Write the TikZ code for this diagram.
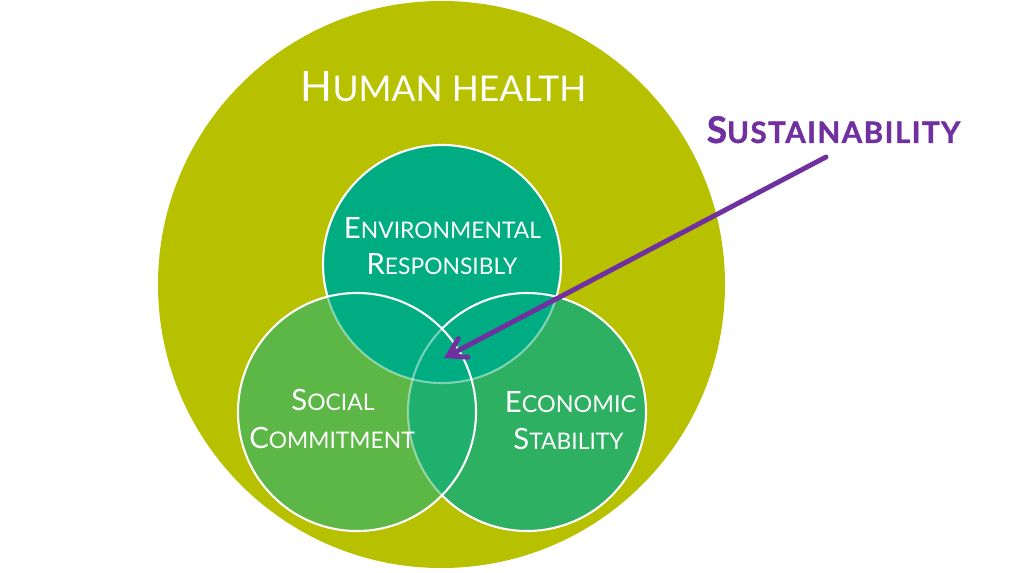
\documentclass[tikz,border=0pt]{standalone}
\usepackage{fontspec}
\setmainfont{Lato}
\usetikzlibrary{arrows.meta,calc}
\definecolor{hhOlive}{RGB}{183,193,0}
\definecolor{envTeal}{RGB}{0,173,131}
\definecolor{lGreen}{RGB}{92,183,70}
\definecolor{rGreen}{RGB}{46,176,98}
\definecolor{lensGreen}{RGB}{30,176,108}
\definecolor{sustPurple}{RGB}{112,48,160}
\newcommand\SC[4]{{\fontsize{#1pt}{#1pt}\selectfont #3}{\fontsize{#2pt}{#2pt}\selectfont #4}}
\begin{document}
\begin{tikzpicture}[x=0.02cm,y=0.02cm,
  ring/.style={draw=white, line width=1.2pt},
  faint/.style={draw=white, draw opacity=0.45, line width=1.2pt},
  lbl/.style={text=white, anchor=base, inner sep=0pt},
  arr/.style={draw=sustPurple, line width=2.8pt, line cap=round,
    -{Straight Barb[length=0.34cm,width=0.42cm,line cap=round]}}]
\useasboundingbox (0,0) rectangle (1024,572);
% outer circle
\fill[hhOlive] (441.5,287.5) circle (283.5);
% Venn circles
\coordinate (T) at (442,308);
\coordinate (L) at (357,160);
\coordinate (R) at (527,160);
\fill[rGreen] (R) circle (119);
\fill[lGreen] (L) circle (119);
\begin{scope}
  \clip (L) circle (119);
  \fill[lensGreen] (R) circle (119);
\end{scope}
\fill[envTeal] (T) circle (119);
% outlines
\draw[ring] (L) circle (119);
\draw[ring] ($(R)+(135.6:119)$) arc[start angle=135.6, end angle=-135.6, radius=119];
\draw[faint] ($(R)+(135.6:119)$) arc[start angle=135.6, end angle=224.4, radius=119];
\draw[ring] ($(T)+(-16:119)$) arc[start angle=-16, end angle=196, radius=119];
\draw[faint] ($(T)+(196:119)$) arc[start angle=196, end angle=344, radius=119];
% labels
\node[lbl] (hh) at (443.5,470) {\SC{23.8}{20.2}{H}{UMAN HEALTH}};
\node[lbl, text=sustPurple, font=\bfseries\addfontfeature{LetterSpace=5,FakeBold=1.2}] (sust) at (833.5,429) {\SC{21}{16.8}{S}{USTAINABILITY}};
\node[lbl] (env1) at (442.5,334) {\SC{16.7}{13}{E}{NVIRONMENTAL}};
\node[lbl] (env2) at (442,297) {\SC{16.7}{13}{R}{ESPONSIBLY}};
\node[lbl] (soc1) at (333,162) {\SC{16.7}{13}{S}{OCIAL}};
\node[lbl] (soc2) at (332,124) {\SC{16.7}{13}{C}{OMMITMENT}};
\node[lbl] (eco1) at (570.5,160) {\SC{16.7}{13.3}{E}{CONOMIC}};
\node[lbl] (eco2) at (568.5,123) {\SC{16.7}{13}{S}{TABILITY}};
% arrow
\coordinate (a0) at (826,415);
\coordinate (tip) at (444,214);
\draw[arr] (a0) -- (tip);
\end{tikzpicture}
\end{document}
